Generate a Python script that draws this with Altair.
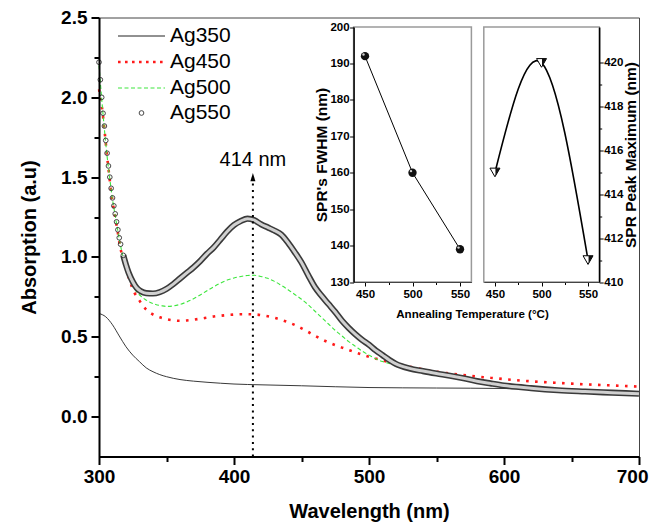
import altair as alt
import pandas as pd

# ---------------- data ----------------
series_names = ["Ag350", "Ag450", "Ag500", "Ag550"]

wl_350 = [300, 305, 310, 315, 320, 325, 330, 335, 340, 345, 350, 360, 370, 380, 390, 400, 420, 450, 500, 550, 600, 650, 700]
abs_350 = [0.646, 0.625, 0.575, 0.505, 0.4375, 0.385, 0.344, 0.305, 0.281, 0.263, 0.25, 0.232, 0.222, 0.215, 0.209, 0.204,
           0.199, 0.193, 0.182, 0.179, 0.176, 0.165, 0.152]

wl_450 = [300, 302, 304, 306, 308, 310, 312, 314, 316, 318, 320, 323, 326, 329, 332, 335, 338, 341, 345,
          350, 355, 360, 365, 370, 375, 380, 385, 390, 395, 400, 405, 410, 415, 420, 425, 430, 435, 440, 445,
          450, 455, 460, 465, 470, 475, 480, 485, 490, 495, 500, 510, 520, 530, 540, 550, 560,
          575, 590, 600, 620, 640, 660, 680, 700]
abs_450 = [2.05, 1.95, 1.8, 1.63, 1.48, 1.35, 1.25, 1.15, 1.05, 0.99, 0.93, 0.845, 0.78, 0.74, 0.70, 0.67, 0.65, 0.635, 0.622,
           0.61, 0.603, 0.6, 0.602, 0.607, 0.613, 0.62, 0.627, 0.632, 0.636, 0.639, 0.641, 0.641, 0.64, 0.636, 0.629, 0.619,
           0.606, 0.591, 0.574, 0.553, 0.53, 0.506, 0.484, 0.465, 0.448, 0.432, 0.417, 0.402, 0.388, 0.375,
           0.352, 0.33, 0.312, 0.296, 0.281, 0.27, 0.255, 0.243, 0.235, 0.221, 0.211, 0.202, 0.195, 0.188]

wl_500 = [300, 302, 304, 306, 308, 310, 312, 314, 316, 318, 320, 322, 325, 328, 331, 334, 338, 342, 346,
          350, 355, 360, 365, 370, 375, 380, 385, 390, 395, 400, 405, 410, 415, 420, 425, 430, 435, 440, 445,
          450, 455, 460, 465, 470, 475, 480, 485, 490, 495, 500, 505, 510, 515, 520,
          530, 540, 550, 560, 580, 600, 620, 650, 700]
abs_500 = [2.2, 1.99, 1.8, 1.63, 1.49, 1.36, 1.26, 1.16, 1.07, 0.99, 0.93, 0.88, 0.82, 0.78, 0.755, 0.735, 0.715, 0.702, 0.695,
           0.69, 0.693, 0.703, 0.718, 0.738, 0.762, 0.788, 0.813, 0.836, 0.855, 0.868, 0.878, 0.884, 0.885, 0.878, 0.866,
           0.847, 0.822, 0.795, 0.765, 0.735, 0.7, 0.66, 0.62, 0.58, 0.54, 0.505, 0.47, 0.44, 0.41, 0.385, 0.362, 0.345,
           0.333, 0.32, 0.302, 0.287, 0.272, 0.258, 0.225, 0.198, 0.18, 0.163, 0.145]

wl_550 = [300, 301, 302, 303, 304, 305, 306, 307, 308, 309, 310, 311, 312, 313, 314, 315, 316, 318, 320, 322, 325, 328, 331, 335,
          340, 345, 350, 355, 360, 365, 370, 375, 380, 385, 390, 395, 400, 405, 410, 415, 420, 425, 430, 435, 440, 445,
          450, 455, 460, 465, 470, 475, 480, 485, 490, 495, 500, 505, 510, 515, 520,
          530, 540, 550, 560, 570, 580, 590, 600, 620, 640, 660, 680, 700]
abs_550 = [2.22, 2.11, 2.0, 1.9, 1.82, 1.73, 1.65, 1.57, 1.5, 1.43, 1.37, 1.32, 1.27, 1.22, 1.17, 1.12, 1.08,
           1.01, 0.95, 0.9, 0.845, 0.805, 0.785, 0.773,
           0.771, 0.78, 0.8, 0.83, 0.865, 0.9, 0.935, 0.975, 1.02, 1.06, 1.11, 1.16, 1.2,
           1.225, 1.24, 1.23, 1.205, 1.185, 1.165, 1.14, 1.09, 1.03, 0.965, 0.885, 0.81, 0.755, 0.705, 0.655, 0.6, 0.555,
           0.515, 0.48, 0.45, 0.415, 0.385, 0.355, 0.33,
           0.302, 0.285, 0.27, 0.256, 0.24, 0.222, 0.208, 0.195, 0.178, 0.165, 0.157, 0.15, 0.143]

anneal_temp = [450, 500, 550]
fwhm_nm = [192, 160, 139]
peak_nm = [415, 420, 411]

main_x_ticks = [300, 350, 400, 450, 500, 550, 600, 650, 700]
main_y_ticks = [0, 0.25, 0.5, 0.75, 1.0, 1.25, 1.5, 1.75, 2.0, 2.25, 2.5]
inset_x_ticks = [450, 475, 500, 525, 550]
fwhm_ticks = list(range(130, 201, 5))
peak_ticks = list(range(410, 421))
peak_wl = 414
peak_label = "414 nm"

FONT = "Liberation Sans, Arial, sans-serif"
NARROW = "Liberation Sans Narrow, Arial Narrow, Liberation Sans, Arial, sans-serif"

d350 = pd.DataFrame({"w": wl_350, "a": abs_350})
d450 = pd.DataFrame({"w": wl_450, "a": abs_450})
d500 = pd.DataFrame({"w": wl_500, "a": abs_500})
d550 = pd.DataFrame({"w": wl_550, "a": abs_550})
dins = pd.DataFrame({"t": anneal_temp, "f": fwhm_nm, "p": peak_nm})
one = pd.DataFrame({"k": [0]})

# ---------------- main panel ----------------
xs_main = alt.Scale(domain=[300, 700], nice=False, zero=False)
ys_main = alt.Scale(domain=[-0.25, 2.5], nice=False, zero=False)

x_axis_main = alt.Axis(
    orient="bottom", values=main_x_ticks, labelExpr="datum.value % 100 == 0 ? datum.label : ''",
    tickSize={"condition": {"test": "datum.value % 100 != 0", "value": 5}, "value": 8},
    labelAlign={"condition": {"test": "datum.value == 700", "value": "right"}, "value": "center"},
    labelOffset={"condition": {"test": "datum.value == 700", "value": 9}, "value": 0},
    tickWidth=2, tickColor="black", domainColor="black", domainWidth=2, zindex=1,
    labelFont=FONT, labelFontSize=19, labelFontWeight="bold", labelColor="black", labelPadding=3,
    labelFlush=False, labelOverlap=False, grid=False,
    title="Wavelength (nm)", titleFont=FONT, titleFontSize=20, titleFontWeight="bold",
    titleColor="black", titlePadding=15)
y_axis_main = alt.Axis(
    orient="left", values=main_y_ticks,
    labelExpr="round(datum.value*4) % 2 == 0 ? format(datum.value, '.1f') : ''",
    tickSize={"condition": {"test": "round(datum.value*4) % 2 == 1", "value": 5}, "value": 8},
    tickWidth=2, tickColor="black", domainColor="black", domainWidth=2, zindex=1,
    labelFont=FONT, labelFontSize=19, labelFontWeight="bold", labelColor="black", labelPadding=4,
    labelFlush=False, labelOverlap=False, grid=False,
    title="Absorption (a.u)", titleFont=FONT, titleFontSize=20, titleFontWeight="bold",
    titleColor="black", titlePadding=21)

X = alt.X("w:Q", scale=xs_main, axis=x_axis_main)
Y = alt.Y("a:Q", scale=ys_main, axis=y_axis_main)

l350 = alt.Chart(d350).mark_line(color="#222222", strokeWidth=0.9, interpolate="monotone").encode(x=X, y=Y)
l450 = alt.Chart(d450).mark_line(color="#ff1a1a", strokeWidth=2.6, strokeDash=[2.6, 6.4],
                                 interpolate="monotone").encode(x=X, y=Y)
l500 = alt.Chart(d500).mark_line(color="#3ee63e", strokeWidth=1.1, strokeDash=[4, 2.5],
                                 interpolate="monotone").encode(x=X, y=Y)
band_out = alt.Chart(d550).transform_filter("datum.w >= 318").mark_line(
    color="#3a3a3a", strokeWidth=6.2, interpolate="monotone").encode(x=X, y=Y)
band_in = alt.Chart(d550).transform_filter("datum.w >= 318").mark_line(
    color="#d0d0d0", strokeWidth=3.0, interpolate="monotone").encode(x=X, y=Y)
circ550 = alt.Chart(d550).transform_filter("datum.w < 320").mark_point(
    shape="circle", size=22, color="#333333", strokeWidth=0.9, filled=False, opacity=1).encode(x=X, y=Y)

arrow_line = alt.Chart(one).mark_rule(color="black", strokeWidth=2, strokeDash=[2, 4.3]).encode(
    x=alt.datum(peak_wl), y=alt.datum(-0.25), y2=alt.datum(1.5))
arrow_head = alt.Chart(one).mark_point(shape="M0,-1L0.6,1L-0.6,1Z", filled=True, color="black",
                                       size=70, opacity=1).encode(x=alt.datum(peak_wl), y=alt.datum(1.5))
arrow_text = alt.Chart(one).mark_text(font=FONT, fontSize=20, color="black").encode(
    x=alt.datum(peak_wl), y=alt.datum(1.61), text=alt.value(peak_label))

# legend
leg_rows = [18.5, 44.5, 70.5, 95.5]
leg1 = alt.Chart(one).mark_rule(color="#222222", strokeWidth=1).encode(
    x=alt.value(19), x2=alt.value(66), y=alt.value(leg_rows[0]))
leg2 = alt.Chart(one).mark_rule(color="#ff1a1a", strokeWidth=2.6, strokeDash=[2.6, 4.4]).encode(
    x=alt.value(19), x2=alt.value(66), y=alt.value(leg_rows[1]))
leg3 = alt.Chart(one).mark_rule(color="#3ee63e", strokeWidth=1.1, strokeDash=[4, 2.5]).encode(
    x=alt.value(19), x2=alt.value(66), y=alt.value(leg_rows[2]))
leg4 = alt.Chart(one).mark_point(shape="circle", size=22, color="#333333", strokeWidth=0.9,
                                 filled=False, opacity=1).encode(x=alt.value(42.5), y=alt.value(leg_rows[3]))
leg_texts = [alt.Chart(one).mark_text(font=FONT, fontSize=21, color="black", align="left",
                                      baseline="middle").encode(
    x=alt.value(71), y=alt.value(r), text=alt.value(n)) for n, r in zip(series_names, leg_rows)]

main = alt.layer(l350, l450, l500, band_out, band_in, circ550, arrow_line, arrow_head, arrow_text,
                 leg1, leg2, leg3, leg4, *leg_texts)

# ---------------- inset: FWHM ----------------
def inset_x_axis():
    return alt.Axis(
        orient="bottom", offset=-174.5, values=inset_x_ticks,
        labelExpr="datum.value % 50 == 0 ? datum.label : ''",
        tickSize={"condition": {"test": "datum.value % 50 != 0", "value": 2.5}, "value": 4},
        tickColor="black", tickWidth=1, domainColor="#444444", domainWidth=1.2, zindex=1,
        labelFont=NARROW, labelFontSize=11.5, labelFontWeight="bold", labelColor="black", labelPadding=2,
        labelFlush=False, labelOverlap=False, grid=False, title=None)

lx = alt.Scale(domain=[438, 562], range=[254.6, 372.4], nice=False, zero=False)
ly = alt.Scale(domain=[130, 200], range=[264.5, 9.5], nice=False, zero=False)
ly_axis = alt.Axis(
    orient="left", offset=-254.6, values=fwhm_ticks,
    labelExpr="datum.value % 10 == 0 ? datum.label : ''",
    tickSize={"condition": {"test": "datum.value % 10 != 0", "value": 2.5}, "value": 4},
    tickColor="black", tickWidth=1, domainColor="black", domainWidth=1.5, zindex=1,
    labelFont=NARROW, labelFontSize=11.5, labelFontWeight="bold", labelColor="black", labelPadding=0.5,
    labelFlush=False, labelOverlap=False, grid=False,
    title="SPR's FWHM (nm)", titleFont=NARROW, titleFontSize=15.5, titleFontWeight="bold",
    titleColor="black", titlePadding=0)

LX = alt.X("t:Q", scale=lx, axis=inset_x_axis())
LY = alt.Y("f:Q", scale=ly, axis=ly_axis)

l_frame = alt.Chart(one).mark_rect(fillOpacity=0, stroke="#9a9a9a", strokeWidth=1.5).encode(
    x=alt.datum(438), x2=alt.datum(562), y=alt.datum(130), y2=alt.datum(200))
l_line = alt.Chart(dins).mark_line(color="black", strokeWidth=1).encode(x=LX, y=LY)
l_pts = alt.Chart(dins).mark_point(shape="circle", filled=True, color="#111111", size=70, opacity=1).encode(x=LX, y=LY)
l_hi = alt.Chart(dins).mark_point(shape="circle", filled=True, color="#cfcfcf", size=6, opacity=1,
                                  xOffset=-1.5, yOffset=-1.6).encode(x=LX, y=LY)
anneal_title = alt.Chart(one).mark_text(font=NARROW, fontSize=11.6, fontWeight="bold", color="black").encode(
    x=alt.value(373.5), y=alt.value(297.5), text=alt.value("Annealing Temperature (°C)"))

left_inset = alt.layer(l_frame, l_line, l_pts, l_hi, anneal_title)

# ---------------- inset: peak position ----------------
rx = alt.Scale(domain=[438, 562], range=[384.8, 500.2], nice=False, zero=False)
ry = alt.Scale(domain=[410, 421.64], range=[264.5, 9.5], nice=False, zero=False)
ry_axis = alt.Axis(
    orient="right", offset=-39.8, values=peak_ticks,
    labelExpr="datum.value % 2 == 0 ? datum.label : ''",
    tickSize={"condition": {"test": "datum.value % 2 != 0", "value": 2.5}, "value": 4},
    tickColor="black", tickWidth=1, domainColor="black", domainWidth=1.5, zindex=1,
    labelFont=NARROW, labelFontSize=11.5, labelFontWeight="bold", labelColor="black", labelPadding=0.5,
    labelFlush=False, labelOverlap=False, grid=False,
    title="SPR Peak Maximum (nm)", titleFont=NARROW, titleFontSize=15.5, titleFontWeight="bold",
    titleColor="black", titlePadding=1, titleAngle=270, titleBaseline="top")

RX = alt.X("t:Q", scale=rx, axis=inset_x_axis())
RY = alt.Y("p:Q", scale=ry, axis=ry_axis)

r_frame = alt.Chart(one).mark_rect(fillOpacity=0, stroke="#9a9a9a", strokeWidth=1.5).encode(
    x=alt.datum(438), x2=alt.datum(562), y=alt.datum(410), y2=alt.datum(421.64))
r_curve = alt.Chart(dins).mark_line(color="black", strokeWidth=1.6, interpolate="natural").encode(x=RX, y=RY)
r_tri = alt.Chart(dins).mark_point(shape="M-1,-0.866L1,-0.866L0,0.866Z", filled=True, fill="white",
                                   stroke="black", strokeWidth=1, size=100, opacity=1).encode(x=RX, y=RY)
r_half = alt.Chart(dins).mark_point(shape="M0.1,-0.866L1,-0.866L0.1,0.7Z", filled=True, color="#111111",
                                    size=100, opacity=1).encode(x=RX, y=RY)

right_inset = alt.layer(r_frame, r_curve, r_tri, r_half)

chart = alt.layer(main, left_inset, right_inset).resolve_scale(
    x="independent", y="independent"
).properties(
    width=540, height=439,
    autosize=alt.AutoSizeParams(type="none"),
    padding={"left": 91, "top": 9.5, "right": 10, "bottom": 66},
).configure_view(stroke="#444444", strokeWidth=1)

chart.save("out.html", embed_options={"renderer": "svg", "actions": False})
